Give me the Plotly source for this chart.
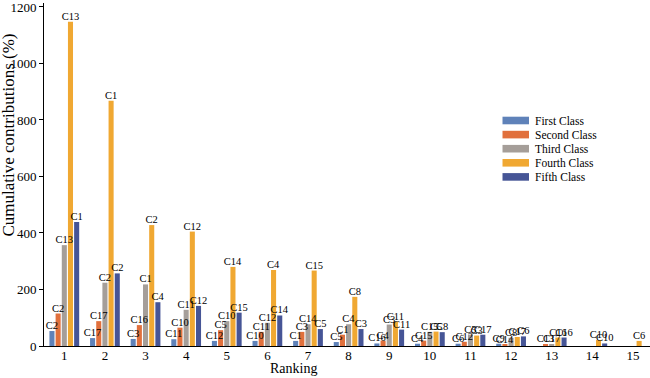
import plotly.graph_objects as go

rankings = list(range(1, 16))
series_names = ["First Class", "Second Class", "Third Class", "Fourth Class", "Fifth Class"]
colors = ["#5F82B9", "#E1703C", "#A59E99", "#F0A832", "#465596"]

first_vals = [53, 28, 25, 24, 18, 18, 18, 14, 9, 8, 8, 8, None, None, None]
first_labels = ["C2", "C17", "C3", "C11", "C12", "C10", "C1", "C5", "C16", "C4", "C6", "C9", "", "", ""]

second_vals = [115, 88, 74, 65, 56, 50, 50, 40, 19, 19, 15, 4, 6, None, None]
second_labels = ["C2", "C17", "C16", "C10", "C5", "C11", "C3", "C1", "C4", "C15", "C12", "C14", "C13", "", ""]

third_vals = [357, 224, 218, 128, 88, 82, 77, 77, 76, 50, 40, 29, 6, None, None]
third_labels = ["C13", "C2", "C1", "C11", "C10", "C12", "C14", "C4", "C3", "C15", "C5", "C8", "C17", "", ""]

fourth_vals = [1148, 868, 428, 405, 280, 269, 267, 174, 86, 51, 37, 32, 30, 21, 18]
fourth_labels = ["C13", "C1", "C2", "C12", "C14", "C4", "C15", "C8", "C11", "C5", "C3", "C17", "C16", "C10", "C6"]

fifth_vals = [439, 257, 155, 142, 118, 108, 60, 60, 58, 49, 40, 34, 30, 9, None]
fifth_labels = ["C1", "C2", "C4", "C12", "C15", "C14", "C5", "C3", "C11", "C8", "C17", "C6", "C16", "C10", ""]

all_vals = [first_vals, second_vals, third_vals, fourth_vals, fifth_vals]
all_labels = [first_labels, second_labels, third_labels, fourth_labels, fifth_labels]

FONT = "Liberation Serif"
W, H = 650, 378
ML, MR, MT, MB = 44, 0, 3, 32

fig = go.Figure()
for k, (name, col, vals) in enumerate(zip(series_names, colors, all_vals)):
    fig.add_trace(go.Bar(
        x=rankings, y=vals, name=name, offsetgroup=str(k),
        marker=dict(color=col, line=dict(width=0)), showlegend=False, hoverinfo="x+y+name",
    ))
for k, (vals, labs) in enumerate(zip(all_vals, all_labels)):
    fig.add_trace(go.Bar(
        x=rankings, y=vals, offsetgroup=str(k), text=labs, textposition="outside",
        constraintext="none", cliponaxis=False,
        marker=dict(color="rgba(0,0,0,0)", line=dict(width=0)),
        textfont=dict(family=FONT, size=10.5, color="black"), showlegend=False, hoverinfo="skip",
    ))

pw, ph = W - ML - MR, H - MT - MB
def px_x(p):
    return (p - ML) / pw
def px_y(p):
    return (H - MB - p) / ph

shapes, annots = [], []
for i, (name, col) in enumerate(zip(series_names, colors)):
    cy = 120.5 + i * 14.1
    shapes.append(dict(type="rect", xref="paper", yref="paper",
                       x0=px_x(502.5), x1=px_x(529), y0=px_y(cy + 3.8), y1=px_y(cy - 3.8),
                       fillcolor=col, line=dict(width=0)))
    annots.append(dict(xref="paper", yref="paper", x=px_x(533), y=px_y(cy), text=name,
                       showarrow=False, xanchor="left", yanchor="middle",
                       font=dict(family=FONT, size=11.5, color="black")))

annots.append(dict(xref="paper", yref="paper", x=px_x(7.5), y=px_y(135), text="Cumulative contributions (%)",
                   textangle=-90, showarrow=False, xanchor="center", yanchor="middle",
                   font=dict(family=FONT, size=17, color="black")))
annots.append(dict(xref="paper", yref="paper", x=px_x(293), y=px_y(368), text="Ranking",
                   showarrow=False, xanchor="center", yanchor="middle",
                   font=dict(family=FONT, size=14, color="black")))

fig.update_layout(
    width=W, height=H, margin=dict(l=ML, r=MR, t=MT, b=MB, autoexpand=False),
    paper_bgcolor="white", plot_bgcolor="white",
    barmode="group", bargap=0.24, bargroupgap=0.18,
    shapes=shapes, annotations=annots,
    font=dict(family=FONT, color="black"),
    xaxis=dict(range=[0.5, 15.42], tickvals=rankings, ticks="", showline=True, linecolor="black",
               linewidth=1, showgrid=False, zeroline=False, tickfont=dict(size=13),
               automargin=False, ticklabelstandoff=-3),
    yaxis=dict(range=[0, 1214], tickvals=[0, 200, 400, 600, 800, 1000, 1200], ticks="outside",
               ticklen=4, tickcolor="black", ticklabeloverflow="allow",
               showline=True, linecolor="black", linewidth=1, showgrid=False, zeroline=False,
               tickfont=dict(size=13), automargin=False),
)

fig.write_html("out.html", config={"displayModeBar": False},
               post_script="document.body.style.margin='0';")
